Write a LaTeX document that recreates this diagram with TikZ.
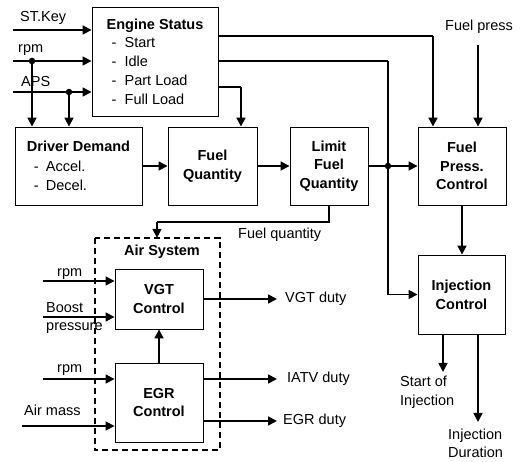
\documentclass[tikz,border=0pt]{standalone}
\usepackage{fontspec}
\setmainfont{Liberation Sans}
\usetikzlibrary{arrows.meta}
\begin{document}
\begin{tikzpicture}[x=1pt,y=-1pt,
  font=\fontsize{14.5}{18.7}\selectfont,
  blk/.style={draw, line width=0.9pt, rectangle, inner sep=0pt, align=center, font=\fontsize{14.5}{18.7}\selectfont\bfseries},
  arr/.style={line width=1.7pt, -{Triangle[length=9pt,width=9pt]}},
  ln/.style={line width=1.7pt},
  lbl/.style={inner sep=0pt, anchor=west, align=left},
  dotn/.style={circle, fill, inner sep=0pt, minimum size=6.5pt}]
\useasboundingbox (0,0) rectangle (523,462);

% blocks
\node[blk, minimum width=126pt, minimum height=109pt, align=left, font=\fontsize{14.5}{18.7}\selectfont] (es) at (155,61.5)
  {\textbf{Engine Status}\\
   \hspace{5pt}\makebox[13pt][l]{-}Start\\
   \hspace{5pt}\makebox[13pt][l]{-}Idle\\
   \hspace{5pt}\makebox[13pt][l]{-}Part Load\\
   \hspace{5pt}\makebox[13pt][l]{-}Full Load};
\node[blk, minimum width=127pt, minimum height=78pt, align=left, font=\fontsize{14.5}{19.5}\selectfont] (dd) at (78.5,166)
  {\textbf{Driver Demand}\\
   \hspace{7pt}\makebox[12pt][l]{-}Accel.\\
   \hspace{7pt}\makebox[12pt][l]{-}Decel.};
\node[blk, minimum width=89pt, minimum height=78pt] (fq) at (212.5,166) {Fuel\\Quantity};
\node[blk, minimum width=78pt, minimum height=78pt] (lfq) at (329,166) {Limit\\Fuel\\Quantity};
\node[blk, minimum width=88pt, minimum height=78pt] (fpc) at (462,166) {Fuel\\Press.\\Control};
\node[blk, minimum width=87pt, minimum height=79pt] (ic) at (461.5,294.5) {Injection\\Control};
\node[blk, minimum width=88pt, minimum height=60pt] (vgt) at (159,299) {VGT\\Control};
\node[blk, minimum width=88pt, minimum height=79pt] (egr) at (159,402.5) {EGR\\Control};
\node[inner sep=0pt, minimum width=125pt, minimum height=212pt] (air) at (157.5,344) {};

% labels
\node[lbl] (lsk) at (20,18) {ST.Key};
\node[lbl] (lrpm) at (18,50) {rpm};
\node[lbl] (laps) at (21,82) {APS};
\node[lbl] (lfp) at (445,27) {Fuel press};
\node[lbl] (lfqty) at (238,235) {Fuel quantity};
\node[inner sep=0pt, font=\fontsize{14.5}{18.7}\selectfont\bfseries] (lair) at (162,252) {Air System};
\node[lbl] (lrpm2) at (57,274) {rpm};
\node[lbl] (lboost) at (46,308) {Boost};
\node[lbl] (lpress) at (46,328) {pressure};
\node[lbl] (lrpm3) at (57,370) {rpm};
\node[lbl] (lam) at (24,410) {Air mass};
\node[lbl] (lvgt) at (285,299) {VGT duty};
\node[lbl] (liatv) at (287,379) {IATV duty};
\node[lbl] (legr) at (283,421) {EGR duty};
\node[lbl] (lsoi) at (400,392.5) {Start of\\Injection};
\node[lbl, font=\fontsize{14.5}{18}\selectfont] (lid) at (448,443) {Injection\\Duration};

% coordinates
\coordinate (sk) at (13,30);
\coordinate (rp) at (13,61);
\coordinate (ap) at (13,92);
\coordinate (c1) at (433,36);
\coordinate (c2) at (388,61);
\coordinate (c3) at (241,87);
\coordinate (fp) at (478,45);
\coordinate (m) at (157,222);
\coordinate (vr) at (43,281);
\coordinate (vb) at (43,317);
\coordinate (er) at (43,379);
\coordinate (ea) at (22,426);
\coordinate (ov) at (277,299);
\coordinate (oi) at (277,379);
\coordinate (oe) at (277,421);
\coordinate (s1) at (443,372);
\coordinate (s2) at (478,422);
\node[dotn] (d1) at (32,61) {};
\node[dotn] (d2) at (69,92) {};
\node[dotn] (d3) at (388,166) {};

% connectors
\draw[arr] (sk) -- (sk -| es.west);
\draw[arr] (rp) -- (rp -| es.west);
\draw[arr] (ap) -- (ap -| es.west);
\draw[arr] (d1.center) -- (d1 |- dd.north);
\draw[arr] (d2.center) -- (d2 |- dd.north);
\draw[ln] (es.east |- c1) -- (c1);
\draw[arr] (c1) -- (c1 |- fpc.north);
\draw[ln] (es.east |- c2) -- (c2);
\draw[arr] (c2) |- (ic.west);
\draw[ln] (es.east |- c3) -- (c3);
\draw[arr] (c3) -- (c3 |- fq.north);
\draw[arr] (dd.east) -- (fq.west);
\draw[arr] (fq.east) -- (lfq.west);
\draw[arr] (lfq.east) -- (fpc.west);
\draw[arr] (fp) -- (fp |- fpc.north);
\draw[arr] (fpc.south) -- (fpc.south |- ic.north);
\draw[ln] (lfq.south) |- (m);
\draw[arr] (m) -- (m |- air.north);
\draw[arr] (vr) -- (vr -| vgt.west);
\draw[arr] (vb) -- (vb -| vgt.west);
\draw[arr] (er) -- (er -| egr.west);
\draw[arr] (ea) -- (ea -| egr.west);
\draw[arr] (egr.north) -- (vgt.south);
\draw[arr] (vgt.east |- ov) -- (ov);
\draw[arr] (egr.east |- oi) -- (oi);
\draw[arr] (egr.east |- oe) -- (oe);
\draw[arr] (s1 |- ic.south) -- (s1);
\draw[arr] (s2 |- ic.south) -- (s2);

% dashed air system frame
\draw[line width=1.6pt, dash pattern=on 6pt off 4pt] (air.north west) rectangle (air.south east);
\end{tikzpicture}
\end{document}
